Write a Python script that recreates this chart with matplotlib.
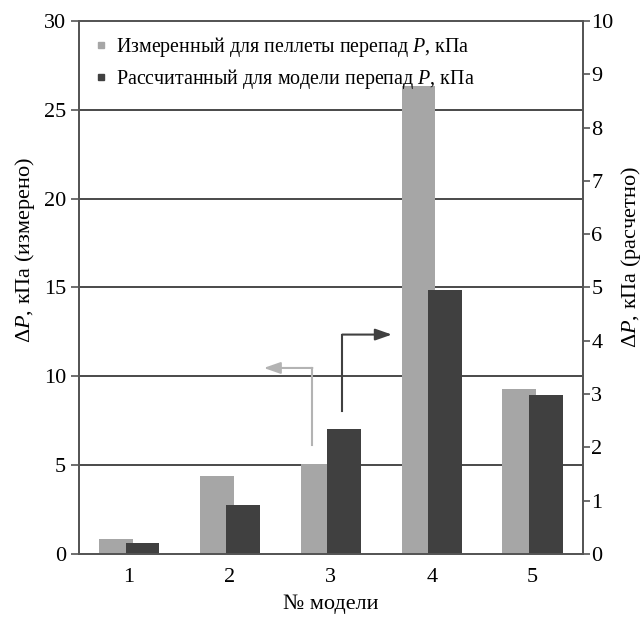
import matplotlib
matplotlib.use("Agg")
import matplotlib.pyplot as plt
from matplotlib.lines import Line2D
import numpy as np

models = ["1", "2", "3", "4", "5"]
measured = [0.85, 4.4, 5.05, 26.35, 9.28]      # left axis, kPa
calculated = [0.20, 0.92, 2.34, 4.95, 2.98]    # right axis, kPa
left_ticks = [0, 5, 10, 15, 20, 25, 30]
right_ticks = list(range(0, 11))

plt.rcParams['font.family'] = ['Liberation Serif', 'DejaVu Serif']
plt.rcParams['mathtext.fontset'] = 'custom'
plt.rcParams['mathtext.rm'] = 'Liberation Serif'
plt.rcParams['mathtext.it'] = 'Liberation Serif:italic'

light = '#a6a6a6'
dark = '#404040'
spine_c = '#555555'

fig = plt.figure(figsize=(6.44, 6.18), dpi=100)
ax = fig.add_axes([0.1222, 0.1036, 0.7831, 0.8624])
ax2 = ax.twinx()

x = np.arange(1, len(models) + 1)
off = 0.132
w = 0.335
ax.bar(x - off, measured, width=w, color=light, zorder=2)
ax2.bar(x + off, calculated, width=w, color=dark, zorder=2)

ax.set_xlim(0.5, 5.5)
ax.set_ylim(0, 30)
ax2.set_ylim(0, 10)
ax.set_yticks(left_ticks)
ax2.set_yticks(right_ticks)
ax.set_xticks(x)
ax.set_xticklabels(models)

for yv in left_ticks[1:-1]:
    ax.axhline(yv, color='#3a3a3a', lw=1.3, zorder=1)

for a in (ax, ax2):
    for s in a.spines.values():
        s.set_color(spine_c)
        s.set_linewidth(1.3)

ax.tick_params(axis='y', direction='out', length=6, width=1.2, color=spine_c, labelsize=16, pad=3)
ax.tick_params(axis='x', length=0, labelsize=16, pad=10)
ax2.tick_params(axis='y', direction='out', length=5, width=1.2, color=spine_c, labelsize=16, pad=1)

ax.set_ylabel("Δ$\\mathit{P}$, кПа (измерено)", fontsize=16)
ax.yaxis.set_label_coords(-0.083, 0.57)
ax2.set_ylabel("Δ$\\mathit{P}$, кПа (расчетно)", fontsize=16)
ax2.yaxis.set_label_coords(1.072, 0.557)
ax.set_xlabel("№ модели", fontsize=16)
ax.xaxis.set_label_coords(0.5, -0.077)

# annotation arrows (left-axis data coordinates)
arrow_light = [(2.817, 6.15), (2.817, 10.47), (2.335, 10.47)]
arrow_dark = [(3.114, 8.03), (3.114, 12.35), (3.605, 12.35)]
for pts, c in ((arrow_light, '#b3b3b3'), (arrow_dark, dark)):
    xs, ys = zip(*pts)
    ax.plot(xs[:2], ys[:2], color=c, lw=1.5, zorder=3)
    ax.annotate('', xy=pts[2], xytext=pts[1],
                arrowprops=dict(arrowstyle='-|>,head_length=1.0,head_width=0.35',
                                color=c, lw=1.5, shrinkA=0, shrinkB=0), zorder=3)

handles = [Line2D([], [], marker='s', linestyle='none', color=light, markersize=5),
           Line2D([], [], marker='s', linestyle='none', color=dark, markersize=5)]
labels = ["Измеренный для пеллеты перепад $\\mathit{P}$, кПа",
          "Рассчитанный для модели перепад $\\mathit{P}$, кПа"]
leg = ax2.legend(handles, labels, loc='upper left', bbox_to_anchor=(-0.004, 1.008),
                 frameon=False, fontsize=14.4, handlelength=0.6, handletextpad=0.45,
                 labelspacing=0.4)

fig.savefig("out.png", dpi=100)
